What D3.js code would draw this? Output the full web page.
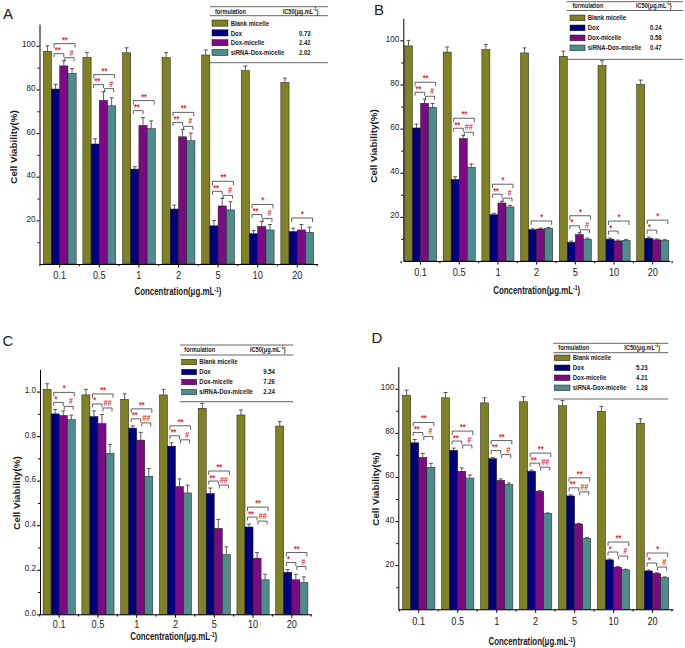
<!DOCTYPE html>
<html><head><meta charset="utf-8">
<script src="https://cdn.jsdelivr.net/npm/d3@7"></script>
<style>
body{margin:0;background:#fff;}
svg{display:block;font-family:"Liberation Sans",Arial,Helvetica,sans-serif;}
</style></head><body>
<svg id="chart" width="685" height="648"></svg>
<script>
const categories = ["0.1","0.5","1","2","5","10","20"];
const seriesNames = ["Blank micelle","Dox","Dox-micelle","siRNA-Dox-micelle"];
const seriesColors = ["#808024","#00007e","#7c0a82","#4e8c8c"];

// ---- Panel A (%)
const blankA = [97.5, 94.7, 96.8, 94.6, 95.8, 88.6, 83.2];
const blankErrA = [2.5, 2.3, 2.3, 2.3, 2.3, 2.2, 2.0];
const doxA = [80.2, 55.0, 43.5, 25.2, 17.5, 13.9, 14.9];
const doxErrA = [2.2, 2.4, 1.1, 1.8, 2.4, 1.5, 1.5];
const dmA = [90.8, 75.0, 63.5, 58.3, 26.6, 17.2, 15.6];
const dmErrA = [2.4, 4.0, 3.6, 3.4, 3.5, 2.3, 2.5];
const siA = [87.4, 72.5, 62.0, 56.5, 24.8, 15.6, 14.5];
const siErrA = [2.2, 3.7, 3.6, 3.5, 3.7, 2.5, 2.4];
const sigLeftA = ["**","**","**","**","**","**",""];
const sigRightA = ["#","#","","#","#","#",""];
const sigTopA = ["**","**","**","**","**","*","*"];
const ic50A = ["","0.73","2.42","2.02"];

// ---- Panel B (%)
const blankB = [97.5, 94.7, 95.8, 94.3, 92.8, 88.6, 80.0];
const blankErrB = [2.5, 2.3, 2.4, 2.3, 2.3, 2.2, 2.0];
const doxB = [60.3, 37.0, 21.0, 14.2, 8.5, 9.9, 10.3];
const doxErrB = [1.8, 1.2, 0.6, 0.4, 0.5, 0.5, 0.5];
const dmB = [71.5, 55.5, 26.3, 14.5, 12.0, 9.1, 9.6];
const dmErrB = [1.8, 1.5, 0.8, 0.4, 0.8, 0.4, 0.4];
const siB = [69.7, 42.5, 24.5, 14.8, 9.9, 9.3, 9.3];
const siErrB = [1.7, 1.5, 0.7, 0.4, 0.5, 0.4, 0.4];
const sigLeftB = ["**","**","**","","*","*","*"];
const sigRightB = ["#","##","#","","#","",""];
const sigTopB = ["**","**","*","*","*","*","*"];
const ic50B = ["","0.24","0.58","0.47"];

// ---- Panel C (fraction)
const blankC = [1.01, 0.985, 0.965, 0.985, 0.925, 0.895, 0.845];
const blankErrC = [0.025, 0.025, 0.025, 0.025, 0.022, 0.022, 0.02];
const doxC = [0.90, 0.888, 0.836, 0.755, 0.542, 0.392, 0.189];
const doxErrC = [0.02, 0.025, 0.01, 0.015, 0.025, 0.013, 0.012];
const dmC = [0.893, 0.857, 0.782, 0.573, 0.386, 0.252, 0.155];
const dmErrC = [0.02, 0.04, 0.035, 0.035, 0.04, 0.025, 0.025];
const siC = [0.874, 0.723, 0.62, 0.545, 0.268, 0.155, 0.143];
const siErrC = [0.02, 0.04, 0.035, 0.035, 0.035, 0.025, 0.025];
const sigLeftC = ["*","*","**","**","**","**","*"];
const sigRightC = ["#","##","##","#","##","##","#"];
const sigTopC = ["*","**","**","**","**","**","**"];
const ic50C = ["","9.54","7.26","2.24"];

// ---- Panel D (%)
const blankD = [97.0, 95.9, 93.6, 94.1, 92.3, 89.8, 84.4];
const blankErrD = [2.4, 2.4, 2.3, 2.3, 2.4, 2.2, 2.0];
const doxD = [75.5, 72.1, 68.3, 62.6, 51.4, 22.4, 17.4];
const doxErrD = [1.5, 1.0, 0.5, 0.5, 0.5, 0.4, 0.4];
const dmD = [68.9, 62.6, 58.5, 53.5, 38.7, 19.1, 16.3];
const dmErrD = [1.8, 1.5, 0.6, 0.3, 0.3, 0.3, 0.3];
const siD = [64.4, 59.5, 56.7, 43.4, 32.2, 17.9, 14.4];
const siErrD = [1.8, 1.4, 0.6, 0.3, 0.3, 0.3, 0.3];
const sigLeftD = ["**","**","**","**","**","*","*"];
const sigRightD = ["#","#","#","##","##","#","#"];
const sigTopD = ["**","**","**","**","**","**","*"];
const ic50D = ["","5.23","4.21","1.28"];

const pctTicks = [20,40,60,80,100];
const pctMinor = [10,30,50,70,90];
const fracTicks = [0,0.2,0.4,0.6,0.8,1.0];
const fracMinor = [0.1,0.3,0.5,0.7,0.9];

const panels = [
 {label:"A", lab:[3,18.5], left:39.5, right:317.5, top:24, bottom:264, po:0.096, yMax:110,
  ticks:pctTicks, minor:pctMinor, fmt:d3.format("d"), tp:4.5,
  vals:[blankA,doxA,dmA,siA], errs:[blankErrA,doxErrA,dmErrA,siErrA],
  sig:[sigLeftA,sigRightA,sigTopA], ic50:ic50A,
  xt:[178,295.5], yt:[17,147],
  lg:{x0:210,x1:328,top:6.7,head:13.8,mid:15.7,row0:20,step:9.8,sx:212,sw:16,sh:6.2,lx:230.7,vx:299,hx1:215,hx2:282.7,bot:62.7}},
 {label:"B", lab:[374,15], left:403.3, right:670, top:18.3, bottom:261, po:0.03, yMax:110,
  ticks:pctTicks, minor:pctMinor, fmt:d3.format("d"), tp:4,
  vals:[blankB,doxB,dmB,siB], errs:[blankErrB,doxErrB,dmErrB,siErrB],
  sig:[sigLeftB,sigRightB,sigTopB], ic50:ic50B,
  xt:[536.7,294], yt:[377,146],
  lg:{x0:566.7,x1:683,top:1.7,head:8.5,mid:10.5,row0:15,step:10,sx:570,sw:15,sh:5.8,lx:587.7,vx:650,hx1:572.5,hx2:636,bot:59.3}},
 {label:"C", lab:[2.5,346], left:40, right:311, top:369.3, bottom:614.3, po:0.08, yMax:1.1,
  ticks:fracTicks, minor:fracMinor, fmt:d3.format(".1f"), tp:3,
  vals:[blankC,doxC,dmC,siC], errs:[blankErrC,doxErrC,dmErrC,siErrC],
  sig:[sigLeftC,sigRightC,sigTopC], ic50:ic50C,
  xt:[173.7,640.5], yt:[19.5,493],
  lg:{x0:180,x1:293.3,top:345,head:352.5,mid:355,row0:359.3,step:10,sx:181.7,sw:15,sh:5.5,lx:199.3,vx:263.3,hx1:184.3,hx2:250,bot:401.7}},
 {label:"D", lab:[371.5,343], left:398.3, right:673, top:366.7, bottom:609.3, po:0.11, yMax:110,
  ticks:pctTicks, minor:pctMinor, fmt:d3.format("d"), tp:5,
  vals:[blankD,doxD,dmD,siD], errs:[blankErrD,doxErrD,dmErrD,siErrD],
  sig:[sigLeftD,sigRightD,sigTopD], ic50:ic50D,
  xt:[532,645.5], yt:[378.5,489],
  lg:{x0:553.3,x1:668.3,top:343.3,head:350,mid:352.7,row0:355,step:10,sx:554.3,sw:15.7,sh:5.7,lx:572.7,vx:636,hx1:558.3,hx2:624.3,bot:399}}
];

const svg = d3.select("#chart");
const RED = "#e8242c";

function squeeze(sel, s){
  sel.each(function(){
    const t = d3.select(this);
    const x = +t.attr("x") || 0;
    t.attr("transform", `translate(${x},0) scale(${s},1) translate(${-x},0)`);
  });
}

function drawPanel(p){
  const g = svg.append("g");
  const y = d3.scaleLinear().domain([0, p.yMax]).range([p.bottom, p.top]);
  const x0 = d3.scaleBand().domain(categories).range([p.left, p.right]).paddingInner(0.17).paddingOuter(p.po);
  const x1 = d3.scaleBand().domain(d3.range(4)).range([0, x0.bandwidth()]);
  const cx = (s,i) => x0(categories[i]) + x1(s) + x1.bandwidth()/2;

  // bars
  p.vals.forEach((vals, s) => {
    g.append("g").selectAll("rect").data(vals).join("rect")
      .attr("x", (d,i) => x0(categories[i]) + x1(s))
      .attr("y", d => y(d))
      .attr("width", x1.bandwidth())
      .attr("height", d => y(0) - y(d))
      .attr("fill", seriesColors[s])
      .attr("stroke", "#1a1a1a").attr("stroke-width", 0.5);
  });
  // error bars (upper)
  p.vals.forEach((vals, s) => {
    const eg = g.append("g").attr("stroke","#333").attr("stroke-width",0.8).attr("fill","none");
    vals.forEach((v,i) => {
      const e = p.errs[s][i];
      const xc = cx(s,i);
      eg.append("path").attr("d", `M${xc},${y(v)}V${y(v+e)}M${xc-2},${y(v+e)}H${xc+2}`);
    });
  });

  // significance brackets
  const bg = g.append("g");
  categories.forEach((c,i) => {
    const L = p.sig[0][i], R = p.sig[1][i], T = p.sig[2][i];
    const caps = [1,2,3].map(s => y(p.vals[s][i] + p.errs[s][i]));
    const minCap = Math.min(...caps);
    const xd = cx(1,i), xm = cx(2,i), xs = cx(3,i);
    let yl, yr, yt;
    if (L || R) { yl = minCap - 7; yr = yl + 4; yt = yl - 10; }
    else { yt = minCap - 6.5; }
    const br = (xa, xb, yy, leg) => bg.append("path")
      .attr("d", `M${xa},${yy+leg}V${yy}H${xb}V${yy+leg}`)
      .attr("fill","none").attr("stroke","#3a3a3a").attr("stroke-width",0.8);
    const lab = (txt, xx, yy, anchor) => bg.append("text").attr("class","sig")
      .attr("x", xx).attr("y", yy).attr("text-anchor", anchor)
      .attr("font-size", 8.5).attr("font-weight","bold").attr("font-style","italic")
      .attr("fill", RED).text(txt);
    if (L) { br(xd-1.5, xm, yl, 3.5); lab(L, xd-1, yl-0.5, "start"); }
    if (R) { br(xm+1, xs+2, yr, 3.5); lab(R, xs+1.5, yr-2, "end"); }
    if (T) { br(xd-1.5, xs+3, yt, 4); lab(T, (xd-1.5+xs+3)/2, yt-1, "middle"); }
  });
  squeeze(bg.selectAll("text.sig"), 0.85);

  // y axis
  const ya = g.append("g").attr("transform", `translate(${p.left},0)`)
    .call(d3.axisLeft(y).tickValues(p.ticks).tickFormat(p.fmt).tickSize(3).tickSizeOuter(0).tickPadding(1));
  ya.attr("font-family", null).attr("font-size", null);
  ya.select(".domain").attr("stroke","#000").attr("stroke-width",1);
  ya.selectAll(".tick line").attr("stroke","#000");
  ya.selectAll("text").attr("font-size",9.5).attr("dy","0.1em").attr("fill","#222");
  squeeze(ya.selectAll("text"), 0.85);
  const ym = g.append("g").attr("transform", `translate(${p.left},0)`)
    .call(d3.axisLeft(y).tickValues(p.minor).tickFormat("").tickSize(2));
  ym.select(".domain").remove();
  ym.selectAll(".tick line").attr("stroke","#000");

  // x axis
  const xa = g.append("g").attr("transform", `translate(0,${p.bottom})`)
    .call(d3.axisBottom(x0).tickSize(3.5).tickSizeOuter(0).tickPadding(p.tp));
  xa.attr("font-family", null).attr("font-size", null);
  xa.select(".domain").attr("stroke","#000").attr("stroke-width",1);
  xa.selectAll(".tick line").attr("stroke","#000");
  xa.selectAll("text").attr("font-size",10).attr("fill","#222");
  squeeze(xa.selectAll("text"), 0.92);
  // minor x ticks at group boundaries
  const step = x0.step();
  const firstC = x0(categories[0]) + x0.bandwidth()/2;
  d3.range(categories.length + 1).forEach(k => {
    const xx = firstC - step/2 + k*step;
    g.append("line").attr("x1",xx).attr("x2",xx).attr("y1",p.bottom).attr("y2",p.bottom+2.2)
      .attr("stroke","#000").attr("stroke-width",1);
  });

  // axis titles
  const xt = g.append("text").attr("class","xt").attr("x", p.xt[0]).attr("y", p.xt[1])
    .attr("text-anchor","middle").attr("font-size",10).attr("font-weight","bold").attr("fill","#1a1a1a");
  xt.append("tspan").text("Concentration(μg.mL");
  xt.append("tspan").attr("font-size",6.5).attr("dy",-3.5).text("-1");
  xt.append("tspan").attr("dy",3.5).text(")");
  squeeze(xt, 0.79);

  g.append("text").attr("transform", `translate(${p.yt[0]},${p.yt[1]}) rotate(-90)`)
    .attr("text-anchor","middle").attr("font-size",9.8).attr("font-weight","bold").attr("fill","#1a1a1a")
    .text("Cell Viability(%)");

  // panel letter
  g.append("text").attr("x", p.lab[0]).attr("y", p.lab[1]).attr("font-size",15).attr("fill","#222").text(p.label);

  // legend table
  const L = p.lg;
  const lg = g.append("g");
  [L.top, L.mid, L.bot].forEach(yy => lg.append("line").attr("x1",L.x0).attr("x2",L.x1)
    .attr("y1",yy).attr("y2",yy).attr("stroke","#555").attr("stroke-width",0.9));
  lg.append("text").attr("class","lt").attr("x",L.hx1).attr("y",L.head).attr("font-size",7.5)
    .attr("font-weight","bold").attr("fill","#222").text("formulation");
  const h2 = lg.append("text").attr("class","lt").attr("x",L.hx2).attr("y",L.head).attr("font-size",7.5)
    .attr("font-weight","bold").attr("fill","#222");
  h2.append("tspan").text("IC50(μg.mL");
  h2.append("tspan").attr("font-size",5).attr("dy",-3).text("-1");
  h2.append("tspan").attr("dy",3).text(")");
  seriesNames.forEach((nm, s) => {
    const ty = L.row0 + s*L.step;
    lg.append("rect").attr("x",L.sx).attr("y",ty).attr("width",L.sw).attr("height",L.sh)
      .attr("fill",seriesColors[s]).attr("stroke","#1a1a1a").attr("stroke-width",0.5);
    lg.append("text").attr("class","lt").attr("x",L.lx).attr("y",ty+L.sh-0.3).attr("font-size",8)
      .attr("font-weight","bold").attr("fill","#222").text(nm);
    if (p.ic50[s]) lg.append("text").attr("class","lt").attr("x",L.vx).attr("y",ty+L.sh-0.3).attr("font-size",8)
      .attr("font-weight","bold").attr("fill","#222").text(p.ic50[s]);
  });
  squeeze(lg.selectAll("text.lt"), 0.75);
}

panels.forEach(drawPanel);
</script>
</body></html>
